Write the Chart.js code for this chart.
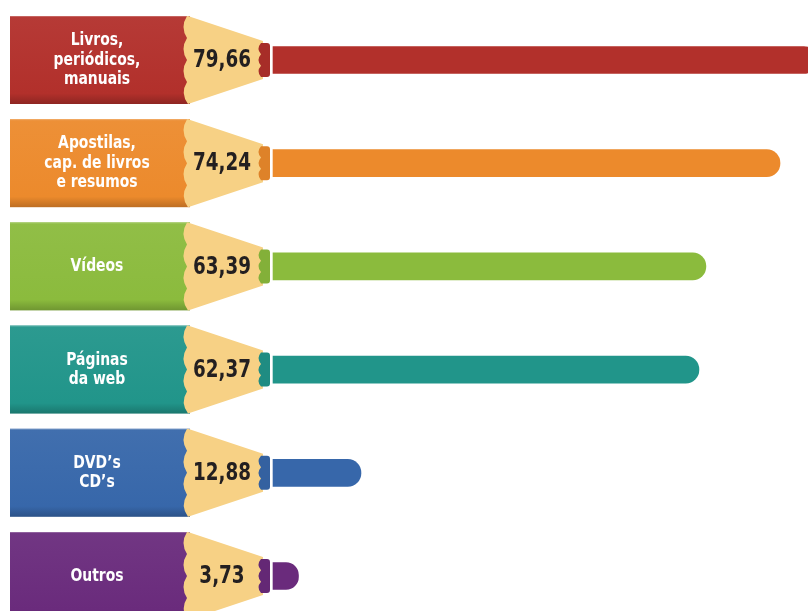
<!DOCTYPE html>
<html>
<head>
<meta charset="utf-8">
<script src="https://cdn.jsdelivr.net/npm/chart.js@4.4.1/dist/chart.umd.min.js"></script>
<style>
  html, body { margin: 0; padding: 0; background: #ffffff; }
  #wrap { width: 808px; height: 611px; position: relative; }
</style>
</head>
<body>
<div id="wrap"><canvas id="c"></canvas></div>
<script>
// Categories (multi-line labels written on the pencil bodies)
const categories = [
  ['Livros,', 'periódicos,', 'manuais'],
  ['Apostilas,', 'cap. de livros', 'e resumos'],
  ['Vídeos'],
  ['Páginas', 'da web'],
  ['DVD\u2019s', 'CD\u2019s'],
  ['Outros']
];
// Percentages
const values = [79.66, 74.24, 63.39, 62.37, 12.88, 3.73];
const valueLabels = ['79,66', '74,24', '63,39', '62,37', '12,88', '3,73'];
// Pencil colours
const colors = ['#B2302B', '#EC8A2C', '#8BBB3D', '#21958A', '#3767AA', '#6A2B7C'];
const woodColor = '#F7D185';

function shade(hex, f) {
  const n = parseInt(hex.slice(1), 16);
  let r = (n >> 16) & 255, g = (n >> 8) & 255, b = n & 255;
  if (f < 0) { r *= (1 + f); g *= (1 + f); b *= (1 + f); }
  else { r += (255 - r) * f; g += (255 - g) * f; b += (255 - b) * f; }
  return 'rgb(' + Math.round(r) + ',' + Math.round(g) + ',' + Math.round(b) + ')';
}

// Narrow text: squeeze horizontally around the centre point
function narrowText(ctx, text, x, y, sx) {
  ctx.save();
  ctx.translate(x, y);
  ctx.scale(sx, 1);
  ctx.fillText(text, 0, 0);
  ctx.restore();
}

// Draws the pencil body, sharpened wood and lead nub in front of each bar
const pencilPlugin = {
  id: 'pencils',
  beforeDatasetsDraw(chart) {
    const ctx = chart.ctx;
    const y = chart.scales.y;
    const bodyL = 10, bodyR = 190, half = 44;
    categories.forEach((lines, i) => {
      const cy = y.getPixelForValue(i);
      const col = colors[i];
      ctx.save();
      // body
      const g = ctx.createLinearGradient(0, cy - half, 0, cy + half);
      g.addColorStop(0, shade(col, 0.05));
      g.addColorStop(0.88, col);
      g.addColorStop(1, shade(col, -0.2));
      ctx.fillStyle = g;
      ctx.fillRect(bodyL, cy - half, bodyR - bodyL, half * 2);
      ctx.fillStyle = shade(col, 0.25);
      ctx.fillRect(bodyL, cy - half, bodyR - bodyL, 1);

      // sharpened wood with scalloped edge
      const tipX = 263, tipH = 19, woodL = 186;
      ctx.beginPath();
      ctx.moveTo(woodL + 2, cy - half);
      ctx.lineTo(tipX, cy - tipH);
      ctx.lineTo(tipX, cy + tipH);
      ctx.lineTo(woodL + 2, cy + half);
      const bumps = 4;
      const step = (half * 2) / bumps;
      for (let k = 0; k < bumps; k++) {
        const y0 = cy + half - k * step;
        const y1 = y0 - step;
        ctx.quadraticCurveTo(woodL - 6, (y0 + y1) / 2, woodL + 1, y1);
      }
      ctx.closePath();
      ctx.fillStyle = woodColor;
      ctx.fill();

      // lead nub
      const nubL = 261, nubR = 270, nubH = 17;
      ctx.beginPath();
      ctx.moveTo(nubL, cy - nubH);
      ctx.lineTo(nubR - 3, cy - nubH);
      ctx.quadraticCurveTo(nubR, cy - nubH, nubR, cy - nubH + 3);
      ctx.lineTo(nubR, cy + nubH - 3);
      ctx.quadraticCurveTo(nubR, cy + nubH, nubR - 3, cy + nubH);
      ctx.lineTo(nubL, cy + nubH);
      const nb = 3, ns = (nubH * 2) / nb;
      for (let k = 0; k < nb; k++) {
        const y0 = cy + nubH - k * ns;
        const y1 = y0 - ns;
        ctx.quadraticCurveTo(nubL - 5, (y0 + y1) / 2, nubL, y1);
      }
      ctx.closePath();
      ctx.fillStyle = shade(col, -0.06);
      ctx.fill();

      // category label
      ctx.fillStyle = '#ffffff';
      ctx.font = 'bold 18px "DejaVu Sans Condensed", "DejaVu Sans", sans-serif';
      ctx.textAlign = 'center';
      ctx.textBaseline = 'middle';
      const lh = 19.5;
      const startY = cy - (lines.length - 1) * lh / 2;
      lines.forEach((t, j) => narrowText(ctx, t, 97, startY + j * lh, 0.86));

      // value label
      ctx.fillStyle = '#231F20';
      ctx.font = 'bold 24px "DejaVu Sans Condensed", "DejaVu Sans", sans-serif';
      narrowText(ctx, valueLabels[i], 222, cy + 1, 0.85);
      ctx.restore();
    });
  }
};

new Chart(document.getElementById('c'), {
  type: 'bar',
  data: {
    labels: categories.map(l => l.join(' ')),
    datasets: [{
      data: values,
      backgroundColor: colors,
      barThickness: 27,
      borderRadius: 14,
      borderSkipped: 'start',
      clip: false
    }]
  },
  options: {
    indexAxis: 'y',
    responsive: true,
    maintainAspectRatio: false,
    animation: false,
    layout: { padding: { left: 273, right: 0, top: 60, bottom: 35 } },
    scales: {
      x: { type: 'linear', min: 0, max: 78.34, display: false },
      y: { type: 'category', offset: false, display: false }
    },
    plugins: { legend: { display: false }, tooltip: { enabled: false } }
  },
  plugins: [pencilPlugin]
});
</script>
</body>
</html>
